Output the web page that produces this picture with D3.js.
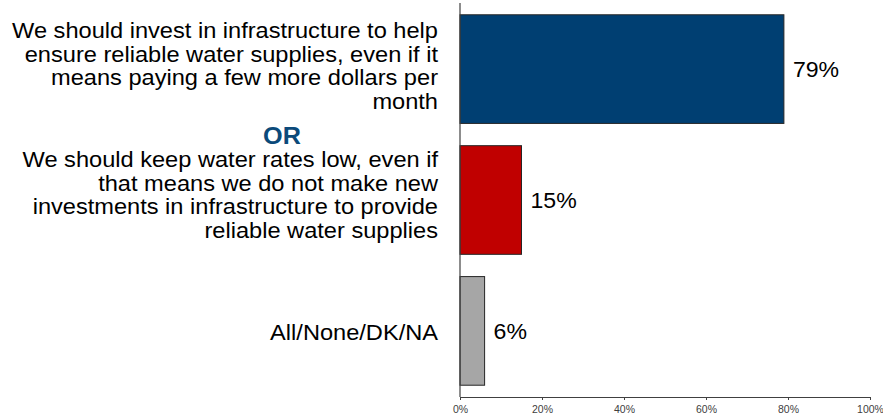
<!DOCTYPE html>
<html>
<head>
<meta charset="utf-8">
<script src="https://cdn.jsdelivr.net/npm/d3@7"></script>
<style>
  body { margin: 0; background: #fff; }
  text { font-family: "Liberation Sans", Arial, sans-serif; }
</style>
</head>
<body>
<div id="chart"></div>
<script>
// chart data
const categories = ["invest", "keep", "none"];
const labelLines = [
  ["We should invest in infrastructure to help", "ensure reliable water supplies, even if it", "means paying a few more dollars per", "month"],
  ["We should keep water rates low, even if", "that means we do not make new", "investments in infrastructure to provide", "reliable water supplies"],
  ["All/None/DK/NA"]
];
const values = [79, 15, 6];
const barColors = ["#003F72", "#C00000", "#A6A6A6"];
const tickValues = [0, 20, 40, 60, 80, 100];

const width = 883, height = 415;
// the source picture is slightly wider than tall, so text gets stretched sideways a bit
const stretch = 1.05;

let svg = d3.select("#chart").append("svg")
  .attr("width", width)
  .attr("height", height);

let xScale = d3.scaleLinear().domain([0, 100]).range([460, 870]);
let yScale = d3.scaleBand().domain(categories).range([3, 397]).paddingInner(0.17).paddingOuter(0.09);

// stretch a text element horizontally around its anchor x
function widen(sel, x) {
  sel.attr("transform", "translate(" + x + ",0) scale(" + stretch + ",1) translate(" + (-x) + ",0)");
}

// bars
svg.selectAll("rect.bar")
  .data(values)
  .enter()
  .append("rect")
  .attr("class", "bar")
  .attr("x", xScale(0))
  .attr("y", (d, i) => yScale(categories[i]))
  .attr("width", d => xScale(d) - xScale(0))
  .attr("height", yScale.bandwidth())
  .attr("fill", (d, i) => barColors[i])
  .attr("stroke", "#262626")
  .attr("stroke-width", 1);

// value labels
svg.selectAll("text.val")
  .data(values)
  .enter()
  .append("text")
  .attr("class", "val")
  .attr("x", d => xScale(d) + 9)
  .attr("y", (d, i) => yScale(categories[i]) + yScale.bandwidth() / 2 + 8)
  .attr("font-size", "22px")
  .attr("fill", "#000")
  .text(d => d + "%")
  .each(function(d) { widen(d3.select(this), xScale(d) + 9); });

// category labels (multi line, right aligned)
let lineH = 23.7;
let nudge = [-3, -5, 2];
labelLines.forEach((lines, i) => {
  let mid = yScale(categories[i]) + yScale.bandwidth() / 2 + nudge[i];
  let t = svg.append("text")
    .attr("text-anchor", "end")
    .attr("font-size", "22.5px")
    .attr("fill", "#000");
  lines.forEach((ln, j) => {
    t.append("tspan")
      .attr("x", 438)
      .attr("y", mid + (j - (lines.length - 1) / 2) * lineH + 7.5)
      .text(ln);
  });
  widen(t, 438);
});

// OR separator
svg.append("text")
  .attr("x", 282)
  .attr("y", (yScale("invest") + yScale.bandwidth() + yScale("keep")) / 2 + 9.5)
  .attr("text-anchor", "middle")
  .attr("font-size", "24px")
  .attr("font-weight", "bold")
  .attr("fill", "#0B4A7A")
  .text("OR")
  .call(widen, 282);

// axes
svg.append("line")
  .attr("x1", xScale(0)).attr("x2", xScale(0))
  .attr("y1", 3).attr("y2", 397)
  .attr("stroke", "#404040").attr("stroke-width", 1.2);

let xAxis = svg.append("g")
  .attr("transform", "translate(0,397)")
  .call(d3.axisBottom(xScale).tickValues(tickValues).tickSize(3).tickSizeOuter(0).tickFormat(d => d + "%"));
xAxis.select(".domain").attr("stroke", "#404040").attr("stroke-width", 1.2);
xAxis.selectAll(".tick line").attr("stroke", "#404040");
xAxis.selectAll(".tick text")
  .attr("font-family", "'Liberation Sans', Arial, sans-serif")
  .attr("font-size", "10px")
  .attr("fill", "#404040")
  .attr("dy", "0.71em")
  .attr("y", 9)
  .each(function() { widen(d3.select(this), 0); });
</script>
</body>
</html>
